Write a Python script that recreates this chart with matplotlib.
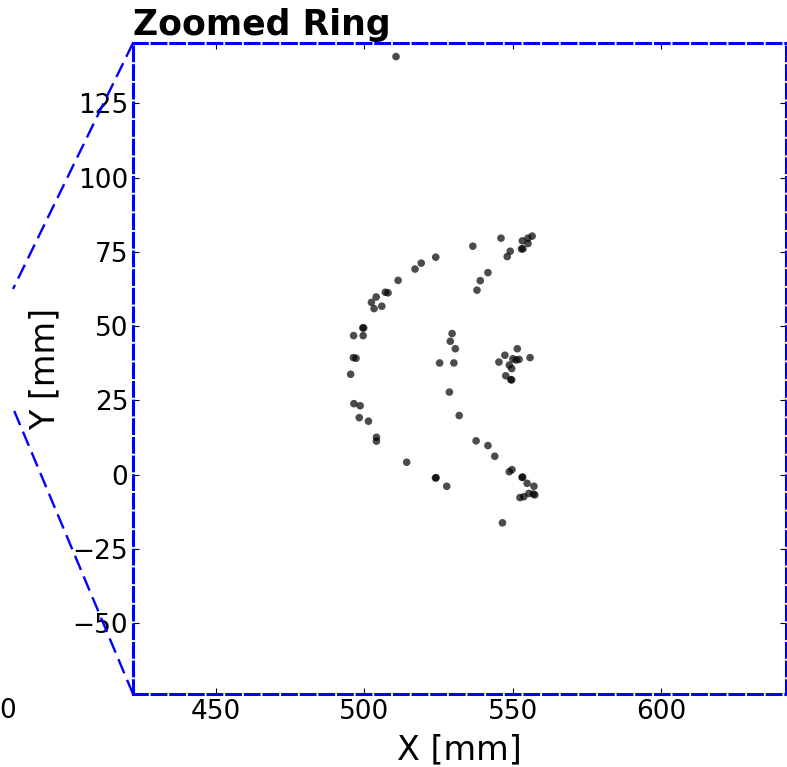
import matplotlib
matplotlib.use("Agg")
import matplotlib.pyplot as plt
from matplotlib.lines import Line2D

# Hit positions (mm)
x_mm = [546.1, 536.6, 553.3, 555.2, 556.6, 555.2, 553.0, 553.5, 549.2, 548.2,
        541.7, 539.1, 538.0, 524.1, 519.2, 517.1, 511.4, 507.1, 508.0, 504.0,
        502.4, 505.9, 503.3, 499.5, 499.8, 496.4, 499.6, 496.3, 497.2, 495.4,
        529.6, 529.0, 530.7, 525.4, 530.2, 528.7, 532.0, 551.6, 547.4, 545.4,
        550.1, 551.2, 552.2, 555.9, 548.9, 549.7, 547.7, 549.4, 549.7, 514.3,
        537.7, 541.7, 544.0, 548.9, 549.8, 553.2, 553.4, 554.9, 557.2, 555.5,
        557.0, 557.5, 552.5, 553.8, 524.0, 524.2, 527.8, 546.6, 496.5, 498.6,
        498.3, 501.4, 504.1, 504.1, 510.7]
y_mm = [79.6, 76.9, 78.7, 79.6, 80.3, 77.8, 76.0, 76.0, 75.2, 73.4,
        68.0, 65.3, 62.1, 73.2, 71.2, 69.2, 65.4, 61.4, 61.2, 59.8,
        58.0, 56.7, 55.9, 49.4, 49.4, 46.8, 46.8, 39.4, 39.2, 33.8,
        47.5, 44.9, 42.4, 37.6, 37.6, 27.8, 19.9, 42.4, 40.2, 37.9,
        39.0, 38.6, 38.8, 39.4, 36.9, 35.7, 33.3, 32.0, 31.9, 4.2,
        11.4, 9.8, 6.2, 1.0, 1.7, -0.9, -0.8, -2.9, -3.9, -6.3,
        -6.5, -6.8, -7.7, -7.4, -1.1, -1.0, -3.9, -16.2, 23.9, 23.2,
        19.2, 18.0, 12.6, 11.3, 140.7]

x_ticks = [450, 500, 550, 600]
y_ticks = [-50, -25, 0, 25, 50, 75, 100, 125]
x_limits = (422.0, 642.2)
y_limits = (-73.8, 145.3)

fig = plt.figure(figsize=(7.87, 7.67), dpi=100)
ax = fig.add_axes([0.169, 0.0952, 0.8297, 0.8488])

ax.scatter(x_mm, y_mm, s=30, c="black", alpha=0.7, edgecolors="none")

ax.set_xlim(*x_limits)
ax.set_ylim(*y_limits)
ax.set_xticks(x_ticks)
ax.set_yticks(y_ticks)
ax.tick_params(direction="in", top=True, right=True, labelsize=19,
               length=4, width=0.8)

for sp in ax.spines.values():
    sp.set_color("blue")
    sp.set_linewidth(2.2)
    sp.set_linestyle((0, (4.5, 1.6)))

ax.set_xlabel("X [mm]", fontsize=24, labelpad=6)
ax.set_ylabel("Y [mm]", fontsize=24, labelpad=8)
ax.set_title("Zoomed Ring", fontsize=25, fontweight="bold", loc="left", pad=6)

# connector lines toward the (off-frame) main view
x0 = 133 / 787
fig.add_artist(Line2D([x0, 13 / 787], [1 - 43 / 767, 1 - 289 / 767],
                      transform=fig.transFigure, color="blue", lw=1.7,
                      linestyle=(0, (6.5, 3))))
fig.add_artist(Line2D([x0, 13 / 787], [1 - 694 / 767, 1 - 408 / 767],
                      transform=fig.transFigure, color="blue", lw=1.7,
                      linestyle=(0, (6.5, 3))))
fig.text(16 / 787, 1 - 711 / 767, "0", fontsize=19, ha="right", va="center")

fig.savefig("out.png", dpi=100)
